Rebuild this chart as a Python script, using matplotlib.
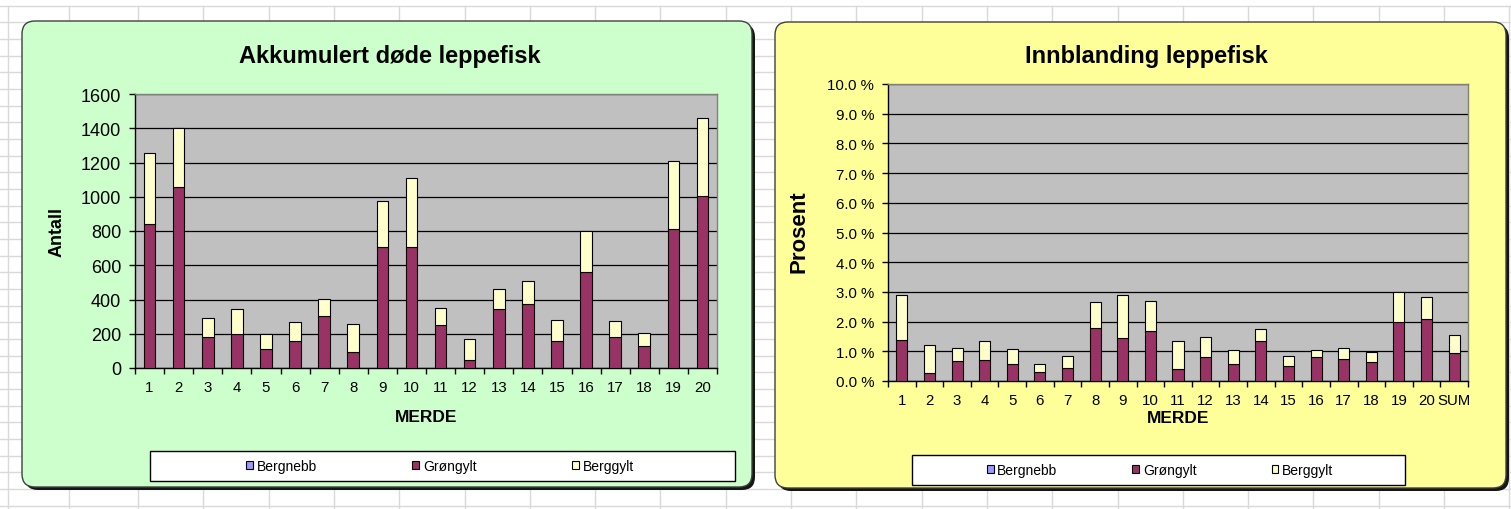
import matplotlib
matplotlib.use('Agg')
import matplotlib.pyplot as plt
import numpy as np
from matplotlib.patches import FancyBboxPatch, Rectangle
from matplotlib.ticker import FuncFormatter

plt.rcParams['font.family'] = ['Liberation Sans', 'DejaVu Sans']

W, H = 1511, 510

# venstre diagram: akkumulert døde leppefisk (antall)
merde_venstre = [str(i) for i in range(1, 21)]
dode_bergnebb = [0] * 20
dode_grongylt = [840, 1058, 179, 198, 109, 156, 302, 93, 704, 704,
                 249, 49, 346, 374, 156, 560, 179, 128, 809, 1002]
dode_berggylt = [413, 341, 111, 144, 89, 111, 101, 164, 269, 403,
                 103, 118, 113, 132, 124, 240, 95, 78, 401, 459]

# høyre diagram: innblanding leppefisk (prosent)
merde_hoyre = [str(i) for i in range(1, 21)] + ['SUM']
innbl_bergnebb = [0] * 21
innbl_grongylt = [1.39, 0.28, 0.68, 0.72, 0.58, 0.31, 0.45, 1.80, 1.46, 1.68,
                  0.39, 0.81, 0.56, 1.33, 0.52, 0.81, 0.75, 0.65, 1.99, 2.09, 0.93]
innbl_berggylt = [1.49, 0.94, 0.42, 0.61, 0.50, 0.27, 0.39, 0.85, 1.44, 1.00,
                  0.94, 0.68, 0.48, 0.42, 0.32, 0.25, 0.35, 0.32, 0.99, 0.75, 0.62]

serier = ['Bergnebb', 'Grøngylt', 'Berggylt']
farger = ['#9999FF', '#993366', '#FFFFCC']

fig = plt.figure(figsize=(W / 100, H / 100), dpi=100)

# bakgrunn: regnearkrutenett + paneler (pikselkoordinater)
bg = fig.add_axes([0, 0, 1, 1])
bg.set_xlim(0, W)
bg.set_ylim(H, 0)
bg.axis('off')
bg.set_zorder(-1)
kolonner = [8, 69] + [138 + 65.3 * k for k in range(22)]
for x in kolonner:
    bg.plot([x, x], [7, H], color='#D9D9D9', lw=1, zorder=1)
for y in np.arange(6.7, H, 16.67):
    bg.plot([0, W], [y, y], color='#D9D9D9', lw=1, zorder=1)


def panel(x0, y0, x1, y1, farge):
    stil = 'round,pad=0,rounding_size=13'
    bg.add_patch(FancyBboxPatch((x0 + 3, y0 + 3), x1 - x0, y1 - y0, boxstyle=stil,
                                fc='#151515', ec='none', zorder=3))
    bg.add_patch(FancyBboxPatch((x0, y0), x1 - x0, y1 - y0, boxstyle=stil,
                                fc=farge, ec='#404040', lw=1, zorder=4))


panel(22, 22, 752, 488, '#CCFFCC')
panel(775, 23, 1506, 489, '#FFFF99')

bg.add_patch(Rectangle((150, 452), 585, 30, fc='white', ec='black', lw=1, zorder=5))
bg.add_patch(Rectangle((912, 456), 493, 30, fc='white', ec='black', lw=1, zorder=5))

bg.text(390, 56, 'Akkumulert døde leppefisk', ha='center', va='center',
        fontsize=17, fontweight='bold', zorder=6)
bg.text(1146, 56, 'Innblanding leppefisk', ha='center', va='center',
        fontsize=17, fontweight='bold', zorder=6)


def px_axes(x0, y0, x1, y1):
    return fig.add_axes([x0 / W, 1 - y1 / H, (x1 - x0) / W, (y1 - y0) / H])


def tegn(ax, kategorier, verdier, ymax, ystep, ytick_fs, ylabel, ylabel_fs):
    n = len(kategorier)
    x = np.arange(n)
    bunn = np.zeros(n)
    hnd = []
    for navn, v, c in zip(serier, verdier, farger):
        b = ax.bar(x, v, width=0.4, bottom=bunn, color=c, edgecolor='black',
                   lw=0.8, label=navn, zorder=3)
        bunn = bunn + np.array(v)
        hnd.append(b)
    ax.set_facecolor('#C0C0C0')
    ax.set_xlim(-0.5, n - 0.5)
    ax.set_ylim(0, ymax)
    ax.set_yticks(np.arange(0, ymax + ystep / 2, ystep))
    ax.yaxis.grid(True, color='black', lw=0.9)
    ax.set_axisbelow(True)
    ax.set_xticks(np.arange(-0.5, n, 1), labels=[''] * (n + 1))
    ax.set_xticks(x, labels=kategorier, minor=True)
    ax.tick_params(axis='x', which='major', length=4, width=1, direction='out')
    ax.tick_params(axis='x', which='minor', length=0, pad=8.5, labelsize=10.8)
    ax.tick_params(axis='y', length=4, width=1, direction='out', pad=6,
                   labelsize=ytick_fs)
    for s in ['left', 'bottom']:
        ax.spines[s].set_color('black')
        ax.spines[s].set_linewidth(1)
    for s in ['top', 'right']:
        ax.spines[s].set_color('#808080')
        ax.spines[s].set_linewidth(1)
    ax.set_ylabel(ylabel, fontsize=ylabel_fs, fontweight='bold')
    ax.set_xlabel('MERDE', fontsize=12.5, fontweight='bold')
    ax.xaxis.label.set_va('center')
    ax.yaxis.label.set_va('center')
    return hnd


ax1 = px_axes(135, 95, 717, 369)
h1 = tegn(ax1, merde_venstre, [dode_bergnebb, dode_grongylt, dode_berggylt],
          1600, 200, 13, 'Antall', 13)
ax1.xaxis.set_label_coords(0.5, (369 - 418) / 274)
ax1.yaxis.set_label_coords((57 - 135) / 582, (369 - 232) / 274)

ax2 = px_axes(888, 85, 1468, 382)
h2 = tegn(ax2, merde_hoyre, [innbl_bergnebb, innbl_grongylt, innbl_berggylt],
          10, 1, 10.8, 'Prosent', 16)
ax2.yaxis.set_major_formatter(FuncFormatter(lambda v, p: f'{v:.1f} %'))
ax2.xaxis.set_label_coords(0.5, (382 - 419) / 297)
ax2.yaxis.set_label_coords((799 - 888) / 580, (382 - 232) / 297)

fig.legend(h1, serier, loc='center', bbox_to_anchor=(440 / W, 1 - 467 / H),
           ncol=3, frameon=False, fontsize=10, columnspacing=6.9,
           handlelength=0.5, handleheight=0.5, handletextpad=0.25)
fig.legend(h2, serier, loc='center', bbox_to_anchor=(1160 / W, 1 - 471 / H),
           ncol=3, frameon=False, fontsize=10, columnspacing=5.4,
           handlelength=0.5, handleheight=0.5, handletextpad=0.25)

fig.savefig('out.png', dpi=100)
